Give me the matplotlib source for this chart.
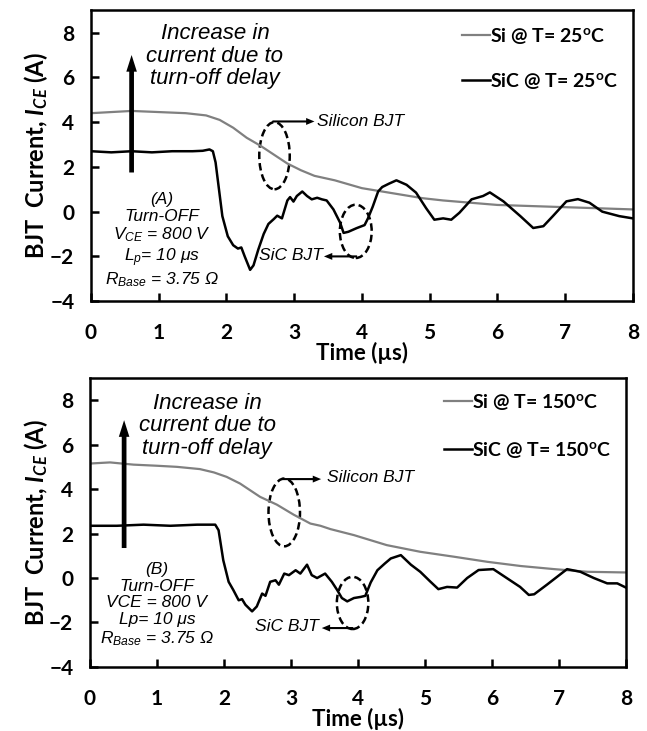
import numpy as np
import matplotlib.pyplot as plt
from matplotlib.patches import Ellipse

plt.rcParams['font.family'] = ['Lato', 'DejaVu Sans']
plt.rcParams['mathtext.fontset'] = 'custom'
plt.rcParams['mathtext.it'] = 'Liberation Sans:italic'
plt.rcParams['mathtext.rm'] = 'Liberation Sans:italic'
plt.rcParams['mathtext.bf'] = 'Lato:bold'
plt.rcParams['mathtext.bfit'] = 'Lato:italic:bold'

# ---- panel A, T = 25 C ----
si25_t = [0, 0.3, 0.6, 1.0, 1.4, 1.7, 1.9, 2.1, 2.3, 2.5, 2.7, 2.9, 3.1, 3.3, 3.6,
          4.0, 4.3, 4.6, 4.9, 5.2, 5.6, 6.0, 6.5, 7.0, 7.5, 8.0]
si25_i = [4.4, 4.45, 4.5, 4.45, 4.4, 4.3, 4.1, 3.75, 3.3, 2.95, 2.55, 2.15, 1.85, 1.6, 1.4,
          1.05, 0.9, 0.75, 0.6, 0.5, 0.4, 0.3, 0.25, 0.2, 0.15, 0.1]
sic25_t = [0, 0.3, 0.6, 0.9, 1.2, 1.5, 1.65, 1.75, 1.8, 1.84, 1.89, 1.94, 2.02, 2.1, 2.17,
           2.22, 2.27, 2.35, 2.4, 2.47, 2.55, 2.62, 2.7, 2.75, 2.82, 2.9, 2.94, 2.99, 3.04,
           3.12, 3.19, 3.26, 3.34, 3.41, 3.48, 3.58, 3.68, 3.73, 3.8, 3.92, 4.04, 4.09, 4.16,
           4.24, 4.3, 4.4, 4.51, 4.66, 4.8, 4.95, 5.07, 5.2, 5.32, 5.44, 5.62, 5.79, 5.89,
           6.09, 6.34, 6.53, 6.68, 6.82, 7.02, 7.19, 7.36, 7.55, 7.8, 8.0]
sic25_i = [2.7, 2.65, 2.7, 2.65, 2.7, 2.7, 2.72, 2.78, 2.7, 2.2, 1.0, -0.2, -1.1, -1.5, -1.65,
           -1.6, -2.0, -2.6, -2.4, -1.7, -1.0, -0.55, -0.33, -0.18, -0.3, 0.5, 0.65, 0.45, 0.7,
           0.9, 0.7, 0.55, 0.62, 0.55, 0.5, 0.1, -0.5, -0.95, -0.9, -0.74, -0.6, -0.3, 0.22,
           0.9, 1.1, 1.25, 1.4, 1.2, 0.85, 0.15, -0.36, -0.3, -0.36, -0.05, 0.55, 0.7, 0.86,
           0.46, -0.2, -0.73, -0.65, -0.2, 0.46, 0.56, 0.4, 0.0, -0.2, -0.3]

# ---- panel B, T = 150 C ----
si150_t = [0, 0.3, 0.65, 1.0, 1.3, 1.64, 1.85, 2.04, 2.24, 2.54, 2.79, 3.04, 3.29, 3.44,
           3.59, 3.94, 4.43, 4.93, 5.43, 5.93, 6.43, 6.93, 7.43, 8.0]
si150_i = [5.15, 5.2, 5.1, 5.05, 5.0, 4.9, 4.75, 4.55, 4.25, 3.65, 3.3, 2.85, 2.45, 2.35,
           2.2, 1.93, 1.48, 1.18, 0.96, 0.73, 0.54, 0.4, 0.28, 0.25]
sic150_t = [0, 0.4, 0.8, 1.2, 1.6, 1.87, 1.92, 1.99, 2.07, 2.14, 2.22, 2.27, 2.32, 2.42,
            2.49, 2.57, 2.62, 2.69, 2.77, 2.82, 2.9, 2.97, 3.07, 3.14, 3.24, 3.31, 3.39,
            3.51, 3.61, 3.69, 3.76, 3.84, 3.94, 4.04, 4.11, 4.19, 4.29, 4.4, 4.49, 4.64,
            4.79, 4.93, 5.08, 5.2, 5.33, 5.48, 5.63, 5.8, 6.02, 6.22, 6.42, 6.55, 6.63,
            6.82, 7.12, 7.32, 7.52, 7.72, 7.87, 8.0]
sic150_i = [2.35, 2.35, 2.4, 2.35, 2.4, 2.4, 2.15, 0.8, -0.17, -0.54, -1.0, -0.95, -1.2, -1.5,
            -1.28, -0.7, -0.8, -0.17, -0.1, -0.3, 0.2, 0.13, 0.35, 0.2, 0.6, 0.13, 0.0,
            0.2, -0.17, -0.54, -0.9, -1.05, -0.9, -0.85, -0.8, -0.2, 0.35, 0.65, 0.88, 1.03,
            0.6, 0.28, -0.16, -0.5, -0.4, -0.43, 0.0, 0.36, 0.4, 0.0, -0.4, -0.76, -0.73,
            -0.3, 0.4, 0.28, 0.0, -0.24, -0.24, -0.43]

xticks = [0, 1, 2, 3, 4, 5, 6, 7, 8]
yticks = [-4, -2, 0, 2, 4, 6, 8]

fig = plt.figure(figsize=(6.47, 7.31), dpi=100)
ax1 = fig.add_axes([0.1406, 0.588, 0.8374, 0.398])
ax2 = fig.add_axes([0.139, 0.0876, 0.8285, 0.3954])


def style(ax):
    ax.set_xlim(0, 8)
    ax.set_ylim(-4, 9)
    ax.set_xticks(xticks)
    ax.set_yticks(yticks)
    for s in ax.spines.values():
        s.set_linewidth(1.8)
    ax.tick_params(direction='in', length=6, width=1.8, labelsize=15, colors='k')
    ax.tick_params(axis='x', pad=16)
    ax.tick_params(axis='y', pad=12)
    for lab in ax.get_xticklabels() + ax.get_yticklabels():
        lab.set_fontweight('bold')
    ax.set_xlabel('Time (µs)', fontsize=16, fontweight='bold', labelpad=-1)
    ax.set_ylabel(r'BJT  Current, $\mathbfit{I}_{\mathbfit{CE}}$ (A)', fontsize=17,
                  fontweight='bold')
    ax.yaxis.set_label_coords(-0.075, 0.5)


def big_arrow(ax, x, y0, y1):
    ax.annotate('', xy=(x, y1), xytext=(x, y0),
                arrowprops=dict(arrowstyle='simple,head_length=0.6,head_width=0.38,tail_width=0.17',
                                mutation_scale=20, fc='k', ec='none', shrinkA=0, shrinkB=0))


def small_arrow(ax, x0, x1, y):
    ax.annotate('', xy=(x1, y), xytext=(x0, y),
                arrowprops=dict(arrowstyle='simple,head_length=0.6,head_width=0.5,tail_width=0.15',
                                mutation_scale=10, fc='k', ec='none', shrinkA=0, shrinkB=0))


def ellipse(ax, cx, cy, w, h):
    ax.add_patch(Ellipse((cx, cy), w, h, fill=False, ec='k', lw=1.8, ls=(0, (3, 1.6))))


itfont = dict(family='Liberation Sans', style='italic', color='k')

# ---- top panel ----
ax = ax1
ax.plot(si25_t, si25_i, color='#808080', lw=1.6, label=r'Si @ T= 25$^{\mathbf{o}}$C')
ax.plot(sic25_t, sic25_i, color='k', lw=1.8, label=r'SiC @ T= 25$^{\mathbf{o}}$C')
style(ax)
big_arrow(ax, 0.6, 1.75, 7.0)
ax.text(1.83, 6.95, 'Increase in\ncurrent due to\nturn-off delay', ha='center', va='center',
        fontsize=16, linespacing=1.1, **itfont)
ax.text(1.05, -1.3, '(A)\nTurn-OFF\n$V_{CE}$ = 800 V\n$L_p$= 10 μs\n$R_{Base}$ = 3.75 Ω',
        ha='center', va='center', fontsize=12.5, linespacing=1.12, **itfont)
ellipse(ax, 2.71, 2.5, 0.45, 3.0)
small_arrow(ax, 2.68, 3.3, 4.03)
ax.text(3.34, 4.03, 'Silicon BJT', ha='left', va='center', fontsize=12.5, **itfont)
ellipse(ax, 3.91, -0.88, 0.47, 2.38)
small_arrow(ax, 3.93, 3.44, -2.0)
ax.text(3.42, -1.98, 'SiC BJT', ha='right', va='center', fontsize=12.5, **itfont)
ax.legend(loc='upper left', bbox_to_anchor=(5.48, 8.3), bbox_transform=ax.transData,
          frameon=False, prop=dict(weight='bold', size=14), handlelength=1.45,
          handletextpad=0.0, labelspacing=1.3, borderpad=0, borderaxespad=0)

# ---- bottom panel ----
ax = ax2
ax.plot(si150_t, si150_i, color='#808080', lw=1.6, label=r'Si @ T= 150$^{\mathbf{o}}$C')
ax.plot(sic150_t, sic150_i, color='k', lw=1.8, label=r'SiC @ T= 150$^{\mathbf{o}}$C')
style(ax)
big_arrow(ax, 0.51, 1.35, 7.1)
ax.text(1.75, 6.85, 'Increase in\ncurrent due to\nturn-off delay', ha='center', va='center',
        fontsize=16, linespacing=1.1, **itfont)
ax.text(1.0, -1.21, '(B)\nTurn-OFF\nVCE = 800 V\nLp= 10 μs\n$R_{Base}$ = 3.75 Ω',
        ha='center', va='center', fontsize=12.5, linespacing=1.15, **itfont)
ellipse(ax, 2.9, 2.95, 0.47, 3.05)
small_arrow(ax, 2.87, 3.45, 4.45)
ax.text(3.54, 4.5, 'Silicon BJT', ha='left', va='center', fontsize=12.5, **itfont)
ellipse(ax, 3.92, -1.12, 0.47, 2.35)
small_arrow(ax, 3.93, 3.46, -2.25)
ax.text(3.41, -2.2, 'SiC BJT', ha='right', va='center', fontsize=12.5, **itfont)
ax.legend(loc='upper left', bbox_to_anchor=(5.28, 8.37), bbox_transform=ax.transData,
          frameon=False, prop=dict(weight='bold', size=14), handlelength=1.45,
          handletextpad=0.0, labelspacing=1.45, borderpad=0, borderaxespad=0)

fig.savefig('out.png', dpi=100)
